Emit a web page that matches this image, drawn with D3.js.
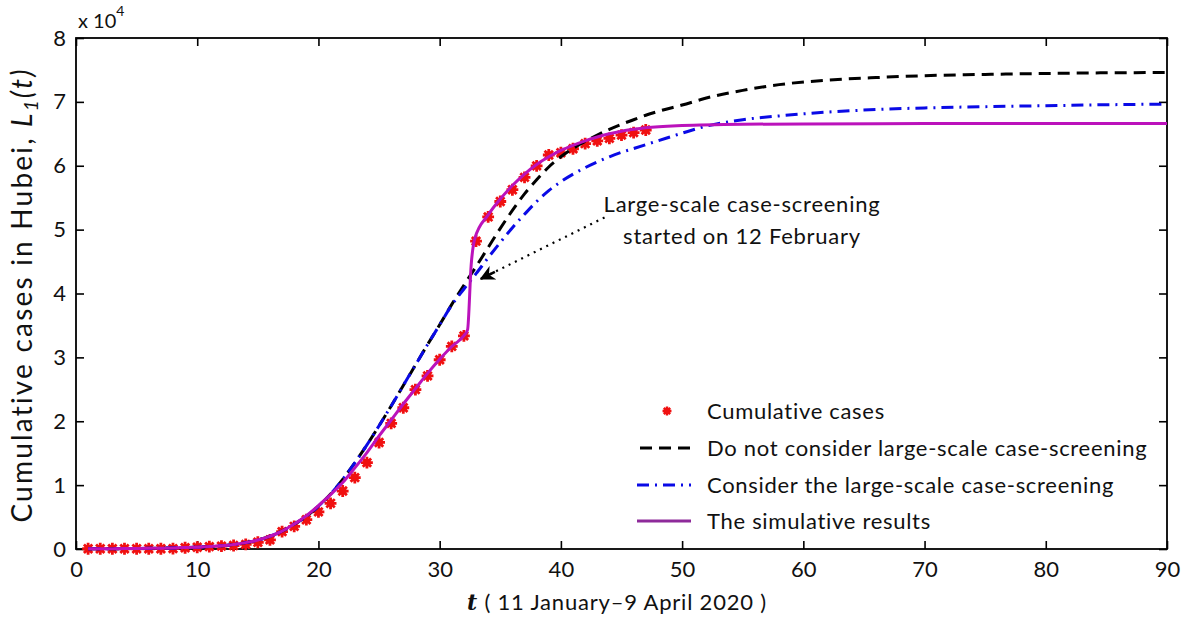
<!DOCTYPE html>
<html>
<head>
<meta charset="utf-8">
<script src="https://cdn.jsdelivr.net/npm/d3@7"></script>
<style>
  html, body { margin: 0; padding: 0; background: #fff; }
  svg { display: block; }
  text { font-family: Lato, "Open Sans", sans-serif; fill: #111; }
</style>
</head>
<body>
<svg id="chart" width="1181" height="618"></svg>
<script>
// ---------- data ----------
const caseDays = [1,2,3,4,5,6,7,8,9,10,11,12,13,14,15,16,17,18,19,20,21,22,23,24,25,26,27,28,29,30,31,32,33,34,35,36,37,38,39,40,41,42,43,44,45,46,47];
const caseValues = [41,41,41,41,41,41,45,62,198,270,375,444,549,729,1052,1423,2714,3554,4586,5806,7153,9074,11177,13522,16678,19665,22112,24953,27100,29631,31728,33366,48206,51986,54406,56249,58182,59989,61682,62031,62662,63454,63889,64287,64786,65187,65596];

const noScreenDays = [1,2,3,4,5,6,7,8,9,10,11,12,13,14,15,16,17,18,19,20,21,22,23,24,25,26,27,28,29,30,31,32,33,34,35,36,37,38,39,40,41,42,43,44,45,46,47,48,50,52,55,58,62,66,70,75,80,85,90];
const noScreenValues = [30,40,50,60,80,100,130,170,220,290,380,500,700,1000,1400,2000,2800,3900,5100,6700,8600,10900,13500,16300,19300,22400,25600,28800,32000,35100,38300,41300,44200,47200,50200,53000,55600,57800,59800,61400,62700,63800,64800,65700,66500,67200,67900,68500,69500,70600,71800,72700,73400,73800,74100,74300,74450,74550,74600];

const screenDays = [1,2,3,4,5,6,7,8,9,10,11,12,13,14,15,16,17,18,19,20,21,22,23,24,25,26,27,28,29,30,31,32,33,34,35,36,37,38,39,40,42,44,45,46,47,48,50,52,55,58,62,66,70,75,80,85,90];
const screenValues = [30,40,50,60,80,100,130,170,220,290,380,500,700,1000,1400,2000,2800,3900,5100,6700,8600,10900,13500,16300,19300,22400,25600,28800,32000,35100,38200,40700,43100,45600,48000,50300,52400,54400,56100,57500,59700,61400,62100,62700,63300,63900,65100,66200,67200,67800,68400,68800,69050,69250,69400,69550,69650];

const simDays = [1,2,3,4,5,6,7,8,9,10,11,12,13,14,15,16,17,18,19,20,21,22,23,24,25,26,27,28,29,30,31,32,32.3,32.6,32.9,34,35,36,37,38,39,40,41,42,43,44,45,46,47,50,55,60,70,90];
const simValues = [30,40,50,60,80,100,130,170,220,290,380,500,700,1000,1400,2000,2800,3900,5200,6800,8500,10400,12700,15100,17700,20200,22700,25100,27500,29700,31700,33400,34300,44500,48600,52300,54800,56900,58700,60200,61400,62400,63200,63900,64500,65000,65400,65700,65950,66300,66500,66550,66600,66600];

const xTicks = [0,10,20,30,40,50,60,70,80,90];
const yTicks = [0,10000,20000,30000,40000,50000,60000,70000,80000];
const legendLabels = ["Cumulative cases","Do not consider large-scale case-screening","Consider the large-scale case-screening","The simulative results"];
const annotationLines = ["Large-scale case-screening","started on 12 February"];
const annotationFrom = [43.6, 51900];
const annotationTo = [33.4, 42300];

// ---------- layout ----------
const svg = d3.select("#chart");
const L = 76, R = 1167, T = 38, B = 549;
const x = d3.scaleLinear().domain([0, 90]).range([L, R]);
const y = d3.scaleLinear().domain([0, 80000]).range([B, T]);

const colBlack = "#000", colBlue = "#0a0ae6", colMag = "#bb12bb", colRed = "#f01010";

// axes
const fontTick = "22px";
const ax = svg.append("g").attr("transform", `translate(0,${B})`)
  .call(d3.axisBottom(x).tickValues(xTicks).tickSize(-8).tickPadding(12).tickFormat(d3.format("d")));
const axT = svg.append("g").attr("transform", `translate(0,${T})`)
  .call(d3.axisTop(x).tickValues(xTicks).tickSize(-8).tickFormat(""));
const ay = svg.append("g").attr("transform", `translate(${L},0)`)
  .call(d3.axisLeft(y).tickValues(yTicks).tickSize(-8).tickPadding(10).tickFormat(d => d / 10000));
const ayR = svg.append("g").attr("transform", `translate(${R},0)`)
  .call(d3.axisRight(y).tickValues(yTicks).tickSize(-8).tickFormat(""));
[ax, axT, ay, ayR].forEach(g => {
  g.select(".domain").remove();
  g.selectAll(".tick line").attr("stroke", "#000").attr("stroke-width", 1.6);
  g.selectAll(".tick text").attr("font-family", "Lato, sans-serif").attr("font-size", fontTick).attr("fill", "#111");
});
svg.append("rect").attr("x", L).attr("y", T).attr("width", R - L).attr("height", B - T)
  .attr("fill", "none").attr("stroke", "#000").attr("stroke-width", 1.8);

// exponent label
const ex = svg.append("text").attr("x", 78).attr("y", 28).attr("font-size", "20px");
ex.append("tspan").text("x 10");
ex.append("tspan").attr("dy", -12).attr("font-size", "14px").text("4");

// star marker symbol
const starSym = {
  draw(ctx, size) {
    const r = Math.sqrt(size) / 2;
    for (let k = 0; k < 4; k++) {
      const a = k * Math.PI / 4;
      ctx.moveTo(-r * Math.cos(a), -r * Math.sin(a));
      ctx.lineTo(r * Math.cos(a), r * Math.sin(a));
    }
  }
};

const plot = svg.append("g");
const pts = plot.append("g");
caseDays.forEach((d, i) => {
  const g = pts.append("g").attr("transform", `translate(${x(d)},${y(caseValues[i])})`);
  g.append("circle").attr("r", 3.8).attr("fill", colRed);
  g.append("path").attr("d", d3.symbol(starSym, 140)()).attr("stroke", colRed).attr("stroke-width", 2.8).attr("fill", "none");
});

const line = d3.line().x(d => x(d[0])).y(d => y(d[1])).curve(d3.curveMonotoneX);
plot.append("path").datum(noScreenDays.map((d, i) => [d, noScreenValues[i]]))
  .attr("d", line).attr("fill", "none").attr("stroke", colBlack).attr("stroke-width", 3)
  .attr("stroke-dasharray", "12,7");
plot.append("path").datum(screenDays.map((d, i) => [d, screenValues[i]]))
  .attr("d", line).attr("fill", "none").attr("stroke", colBlue).attr("stroke-width", 3)
  .attr("stroke-dasharray", "12,6,2,6");
plot.append("path").datum(simDays.map((d, i) => [d, simValues[i]]))
  .attr("d", line).attr("fill", "none").attr("stroke", colMag).attr("stroke-width", 3);

// annotation
svg.append("defs").append("marker").attr("id", "arr").attr("viewBox", "0 0 10 10")
  .attr("refX", 9).attr("refY", 5).attr("markerWidth", 6).attr("markerHeight", 6)
  .attr("markerUnits", "strokeWidth").attr("orient", "auto")
  .append("path").attr("d", "M0,0 L10,5 L0,10 L3,5 Z").attr("fill", "#000");
const ax0 = x(annotationFrom[0]), ay0 = y(annotationFrom[1]);
const ax1 = x(annotationTo[0]), ay1 = y(annotationTo[1]);
svg.append("line").attr("x1", ax0).attr("y1", ay0).attr("x2", ax1 + 8).attr("y2", ay1 - 4)
  .attr("stroke", "#000").attr("stroke-width", 2.2).attr("stroke-dasharray", "2,5");
svg.append("line").attr("x1", ax1 + 14).attr("y1", ay1 - 7).attr("x2", ax1).attr("y2", ay1)
  .attr("stroke", "#000").attr("stroke-width", 2.5).attr("marker-end", "url(#arr)");
annotationLines.forEach((t, i) => {
  svg.append("text").attr("x", 742).attr("y", 212 + i * 32).attr("text-anchor", "middle")
    .attr("font-size", "22px").attr("letter-spacing", "0.75px").text(t);
});

// legend
const lg = svg.append("g");
const legY = [411, 448, 485, 521];
{
  const g = lg.append("g").attr("transform", `translate(667,${legY[0]})`);
  g.append("circle").attr("r", 2.8).attr("fill", colRed);
  g.append("path").attr("d", d3.symbol(starSym, 80)()).attr("stroke", colRed).attr("stroke-width", 2.4).attr("fill", "none");
}
lg.append("line").attr("x1", 640).attr("x2", 691).attr("y1", legY[1]).attr("y2", legY[1])
  .attr("stroke", colBlack).attr("stroke-width", 3).attr("stroke-dasharray", "12,7");
lg.append("line").attr("x1", 637).attr("x2", 691).attr("y1", legY[2]).attr("y2", legY[2])
  .attr("stroke", colBlue).attr("stroke-width", 3).attr("stroke-dasharray", "12,6,2,6");
lg.append("line").attr("x1", 637).attr("x2", 691).attr("y1", legY[3]).attr("y2", legY[3])
  .attr("stroke", "#8e2a9a").attr("stroke-width", 3);
legendLabels.forEach((t, i) => {
  lg.append("text").attr("x", 707).attr("y", legY[i] + 8).attr("font-size", "22px")
    .attr("letter-spacing", "0.7px").text(t);
});

// axis titles
const xl = svg.append("text").attr("x", 617).attr("y", 610).attr("text-anchor", "middle")
  .attr("font-size", "22px").attr("letter-spacing", "0.8px");
xl.append("tspan").attr("font-style", "italic").attr("font-weight", "bold").attr("font-family", "DejaVu Serif, serif").text("t");
xl.append("tspan").text(" ( 11 January\u20139 April 2020 )");

const yl = svg.append("text").attr("transform", "translate(32,295) rotate(-90)")
  .attr("text-anchor", "middle").attr("font-size", "28px").attr("letter-spacing", "2.2px");
yl.append("tspan").text("Cumulative cases in Hubei, ");
yl.append("tspan").attr("font-style", "italic").text("L");
yl.append("tspan").attr("font-style", "italic").attr("font-size", "19px").attr("dy", 6).text("1");
yl.append("tspan").attr("font-style", "italic").attr("dy", -6).text("(t)");
</script>
</body>
</html>
